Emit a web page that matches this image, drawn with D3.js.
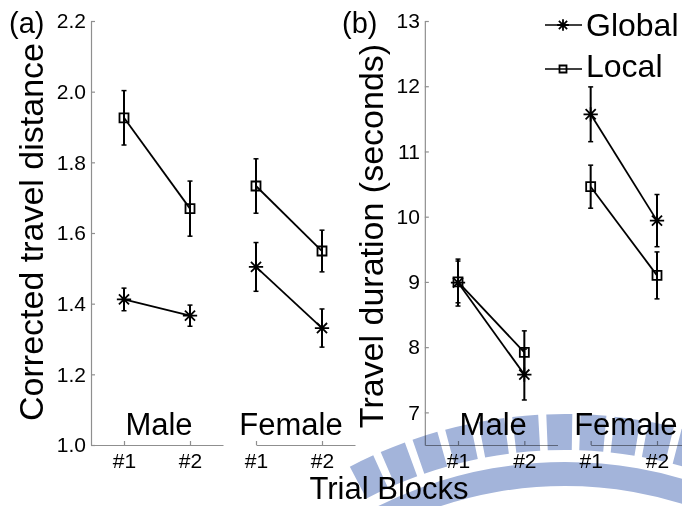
<!DOCTYPE html>
<html>
<head>
<meta charset="utf-8">
<script src="https://cdn.jsdelivr.net/npm/d3@7"></script>
<style>
  body { margin: 0; background: #fff; }
  svg { display: block; }
  text { font-family: "Liberation Sans", Arial, sans-serif; fill: #000; }
</style>
</head>
<body>
<svg id="chart" width="682" height="506"></svg>
<script>
// -------------------------------------------------------------------------
// Data (order: Male #1, Male #2, Female #1, Female #2)
const groups = ['Male', 'Female'];
const blocks = ['#1', '#2'];
const seriesNames = ['Global', 'Local'];

const distGlobalMean = [1.412, 1.366, 1.504, 1.331];
const distGlobalErr = [0.032, 0.030, 0.069, 0.054];
const distLocalMean = [1.926, 1.669, 1.733, 1.549];
const distLocalErr = [0.077, 0.078, 0.077, 0.059];
const distTicks = [1.0, 1.2, 1.4, 1.6, 1.8, 2.0, 2.2];

const durGlobalMean = [8.99, 7.58, 11.57, 9.94];
const durGlobalErr = [0.36, 0.39, 0.42, 0.40];
const durLocalMean = [9.0, 7.92, 10.46, 9.10];
const durLocalErr = [0.32, 0.33, 0.33, 0.36];
const durTicks = [7, 8, 9, 10, 11, 12, 13];

// -------------------------------------------------------------------------
// Helpers
const svg = d3.select('#chart');
const axisGrey = '#8f8f8f';

function asteriskPath(r) {
  const p = d3.path();
  const d = r * Math.SQRT1_2;
  p.moveTo(-r, 0); p.lineTo(r, 0);
  p.moveTo(0, -r); p.lineTo(0, r);
  p.moveTo(-d, -d); p.lineTo(d, d);
  p.moveTo(-d, d); p.lineTo(d, -d);
  return p.toString();
}

function drawMarker(g, kind, x, y, size) {
  if (kind === 'Global') {
    g.append('path')
      .attr('d', asteriskPath(size * 0.65))
      .attr('transform', `translate(${x},${y})`)
      .attr('stroke', '#000')
      .attr('stroke-width', 1.8)
      .attr('fill', 'none');
  } else {
    g.append('path')
      .attr('d', d3.symbol(d3.symbolSquare, size * size)())
      .attr('transform', `translate(${x},${y})`)
      .attr('stroke', '#000')
      .attr('stroke-width', 1.8)
      .attr('fill', 'none');
  }
}

function styleAxis(sel, fontSize) {
  sel.select('.domain').attr('stroke', axisGrey).attr('stroke-width', 1.2);
  sel.selectAll('.tick line').attr('stroke', axisGrey).attr('stroke-width', 1.2);
  sel.selectAll('.tick text')
    .attr('fill', '#000')
    .style('font-size', `${fontSize}px`)
    .style('font-family', '"Liberation Sans", Arial, sans-serif');
}

/**
 * @function drawPanel
 * Draws one panel: y axis, two sub x axes, lines with error bars
 */
function drawPanel(cfg) {
  const x = d3.scaleLinear().domain([0, 3]).range(cfg.xRange);
  const y = d3.scaleLinear().domain(cfg.yDomain).range([445, 21]);
  const panel = svg.append('g');

  // y axis
  const yAxis = panel.append('g')
    .attr('transform', `translate(${x(-0.5)},0)`)
    .call(d3.axisLeft(y)
      .tickValues(cfg.yTicks)
      .tickFormat(cfg.yFormat)
      .tickSizeInner(-4)
      .tickSizeOuter(0)
      .tickPadding(5));
  styleAxis(yAxis, 21);

  // sub x axes, one per group
  const subDomains = [[-0.5, 1.5], [2, 3.5]];
  groups.forEach((grp, gi) => {
    const dom = subDomains[gi];
    const sx = d3.scaleLinear().domain(dom).range([x(dom[0]), x(dom[1])]);
    const xAxis = panel.append('g')
      .attr('transform', 'translate(0,445)')
      .call(d3.axisBottom(sx)
        .tickValues([gi * 2, gi * 2 + 1])
        .tickFormat((d, i) => blocks[i])
        .tickSizeInner(-4)
        .tickSizeOuter(0)
        .tickPadding(8));
    styleAxis(xAxis, 21);

    panel.append('text')
      .attr('x', (x(gi * 2) + x(gi * 2 + 1)) / 2 + 2)
      .attr('y', 435)
      .attr('text-anchor', 'middle')
      .style('font-size', '31px')
      .text(grp);
  });

  // series
  cfg.series.forEach(s => {
    const g = panel.append('g');
    groups.forEach((grp, gi) => {
      const idx = [gi * 2, gi * 2 + 1];
      g.append('line')
        .attr('x1', x(idx[0])).attr('y1', y(s.mean[idx[0]]))
        .attr('x2', x(idx[1])).attr('y2', y(s.mean[idx[1]]))
        .attr('stroke', '#000')
        .attr('stroke-width', 1.8);
    });
    s.mean.forEach((m, i) => {
      const top = y(m + s.err[i]);
      const bot = y(m - s.err[i]);
      g.append('line')
        .attr('x1', x(i)).attr('x2', x(i))
        .attr('y1', top).attr('y2', bot)
        .attr('stroke', '#000').attr('stroke-width', 2);
      [top, bot].forEach(v => {
        g.append('line')
          .attr('x1', x(i) - 2.5).attr('x2', x(i) + 2.5)
          .attr('y1', v).attr('y2', v)
          .attr('stroke', '#000').attr('stroke-width', 1.5);
      });
      drawMarker(g, s.name, x(i), y(m), s.name === 'Global' ? 11 : 9);
    });
  });

  // labels
  svg.append('text')
    .attr('x', cfg.tagX).attr('y', 33)
    .style('font-size', '29px')
    .text(cfg.tag);
  svg.append('text')
    .attr('transform', `translate(${cfg.yLabelX},${cfg.yLabelY}) rotate(-90)`)
    .attr('text-anchor', 'middle')
    .style('font-size', '34px')
    .text(cfg.yLabel);
}

// -------------------------------------------------------------------------
// Panels
drawPanel({
  xRange: [124, 322],
  yDomain: [1.0, 2.2],
  yTicks: distTicks,
  yFormat: d3.format('.1f'),
  series: [
    { name: seriesNames[0], mean: distGlobalMean, err: distGlobalErr },
    { name: seriesNames[1], mean: distLocalMean, err: distLocalErr }
  ],
  tag: '(a)', tagX: 9,
  yLabel: 'Corrected travel distance', yLabelX: 43, yLabelY: 232
});

drawPanel({
  xRange: [458, 657],
  yDomain: [6.5, 13],
  yTicks: durTicks,
  yFormat: d3.format('d'),
  series: [
    { name: seriesNames[0], mean: durGlobalMean, err: durGlobalErr },
    { name: seriesNames[1], mean: durLocalMean, err: durLocalErr }
  ],
  tag: '(b)', tagX: 342,
  yLabel: 'Travel duration (seconds)', yLabelX: 383, yLabelY: 236
});

svg.append('text')
  .attr('x', 389).attr('y', 499)
  .attr('text-anchor', 'middle')
  .style('font-size', '31px')
  .text('Trial Blocks');

// -------------------------------------------------------------------------
// Legend
const legendRows = [25, 69];
const legend = svg.append('g');
seriesNames.forEach((name, i) => {
  const ly = legendRows[i];
  legend.append('line')
    .attr('x1', 545).attr('x2', 582)
    .attr('y1', ly).attr('y2', ly)
    .attr('stroke', '#000').attr('stroke-width', 1.5);
  drawMarker(legend, name, 563, ly, name === 'Global' ? 9 : 7);
  legend.append('text')
    .attr('x', 586).attr('y', ly + (i === 0 ? 11 : 8))
    .style('font-size', '32px')
    .text(name);
});

// -------------------------------------------------------------------------
// Watermark (gear-like arc at the bottom right)
const mark = svg.append('g')
  .attr('transform', 'translate(565,880)')
  .style('mix-blend-mode', 'multiply');
const markColor = '#a3b4da';
const deg = Math.PI / 180;
mark.append('path')
  .attr('d', d3.arc()({ innerRadius: 394, outerRadius: 418,
    startAngle: -40 * deg, endAngle: 40 * deg }))
  .attr('fill', markColor);
d3.range(-28, 22, 4.2).forEach(a => {
  mark.append('path')
    .attr('d', d3.arc()({ innerRadius: 430, outerRadius: 466,
      startAngle: (a + 0.5) * deg, endAngle: (a + 3.7) * deg }))
    .attr('fill', markColor);
});
</script>
</body>
</html>
